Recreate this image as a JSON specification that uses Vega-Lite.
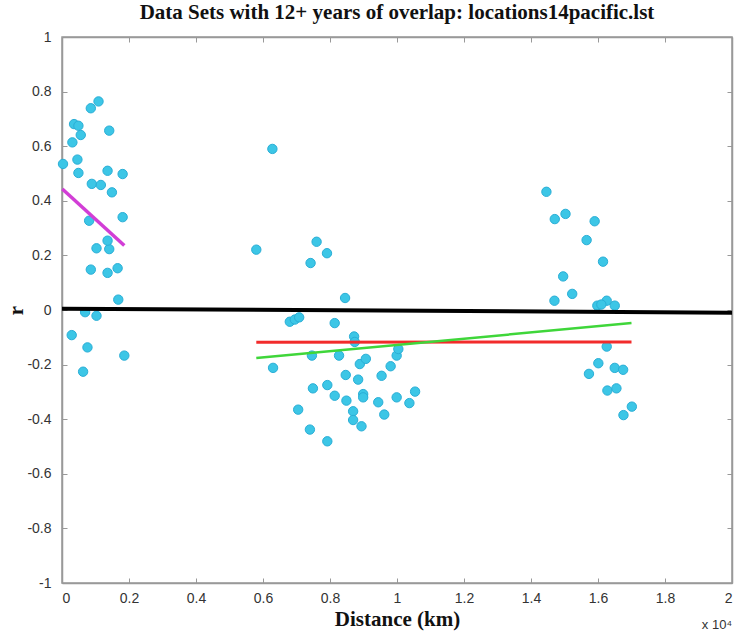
{
  "$schema": "https://vega.github.io/schema/vega-lite/v6.json",
  "autosize": {"type": "none"},
  "width": 670,
  "height": 546,
  "padding": {"left": 62, "top": 37, "right": 3, "bottom": 50},
  "background": "white",
  "title": {
    "text": "Data Sets with 12+ years of overlap: locations14pacific.lst",
    "font": "Liberation Serif",
    "fontSize": 21,
    "fontWeight": "bold",
    "color": "#111",
    "offset": 7
  },
  "config": {
    "view": {"stroke": "#999", "strokeWidth": 1.5},
    "axis": {
      "grid": false,
      "domainColor": "#999",
      "domainWidth": 1.5,
      "tickColor": "#999",
      "tickWidth": 1,
      "tickSize": -5,
      "labelFont": "Liberation Sans",
      "labelFontSize": 14,
      "labelColor": "#333",
      "titleFont": "Liberation Serif",
      "titleFontWeight": "bold",
      "titleFontSize": 21,
      "titleColor": "#111"
    }
  },
  "datasets": {
    "correlations": [
      {"distance": 30, "r": 0.535}, {"distance": 310, "r": 0.614}, {"distance": 360, "r": 0.681},
      {"distance": 490, "r": 0.675}, {"distance": 560, "r": 0.641}, {"distance": 460, "r": 0.551},
      {"distance": 490, "r": 0.502}, {"distance": 860, "r": 0.739}, {"distance": 1090, "r": 0.764},
      {"distance": 1410, "r": 0.657}, {"distance": 890, "r": 0.462}, {"distance": 1160, "r": 0.458},
      {"distance": 1360, "r": 0.51}, {"distance": 1810, "r": 0.498}, {"distance": 1490, "r": 0.431},
      {"distance": 1810, "r": 0.34}, {"distance": 810, "r": 0.327}, {"distance": 1030, "r": 0.226},
      {"distance": 1410, "r": 0.223}, {"distance": 1360, "r": 0.254}, {"distance": 860, "r": 0.148},
      {"distance": 1360, "r": 0.136}, {"distance": 1660, "r": 0.153}, {"distance": 1680, "r": 0.038},
      {"distance": 690, "r": -0.008}, {"distance": 1030, "r": -0.021}, {"distance": 290, "r": -0.092},
      {"distance": 760, "r": -0.137}, {"distance": 1860, "r": -0.167}, {"distance": 630, "r": -0.226},

      {"distance": 6280, "r": 0.59}, {"distance": 5800, "r": 0.221}, {"distance": 7600, "r": 0.25},
      {"distance": 7910, "r": 0.208}, {"distance": 7420, "r": 0.172}, {"distance": 8450, "r": 0.044},
      {"distance": 6800, "r": -0.043}, {"distance": 6950, "r": -0.035}, {"distance": 7080, "r": -0.027},
      {"distance": 8140, "r": -0.048}, {"distance": 8720, "r": -0.097}, {"distance": 6300, "r": -0.212},
      {"distance": 7460, "r": -0.167}, {"distance": 8270, "r": -0.167}, {"distance": 8740, "r": -0.117},
      {"distance": 9990, "r": -0.167}, {"distance": 10040, "r": -0.143}, {"distance": 8890, "r": -0.198},
      {"distance": 9070, "r": -0.179}, {"distance": 9810, "r": -0.206}, {"distance": 8470, "r": -0.238},
      {"distance": 8840, "r": -0.255}, {"distance": 9540, "r": -0.241}, {"distance": 7490, "r": -0.287},
      {"distance": 7920, "r": -0.275}, {"distance": 8140, "r": -0.314}, {"distance": 8990, "r": -0.308},
      {"distance": 8990, "r": -0.32}, {"distance": 8490, "r": -0.332}, {"distance": 9440, "r": -0.338},
      {"distance": 9990, "r": -0.32}, {"distance": 10540, "r": -0.299}, {"distance": 10370, "r": -0.341},
      {"distance": 7050, "r": -0.365}, {"distance": 8690, "r": -0.371}, {"distance": 9620, "r": -0.383},
      {"distance": 8690, "r": -0.403}, {"distance": 8940, "r": -0.426}, {"distance": 7400, "r": -0.438},
      {"distance": 7920, "r": -0.481},

      {"distance": 14460, "r": 0.433}, {"distance": 14710, "r": 0.333}, {"distance": 15030, "r": 0.352},
      {"distance": 15900, "r": 0.325}, {"distance": 15660, "r": 0.256}, {"distance": 16150, "r": 0.177},
      {"distance": 14960, "r": 0.123}, {"distance": 15230, "r": 0.059}, {"distance": 14700, "r": 0.034},
      {"distance": 15980, "r": 0.016}, {"distance": 16260, "r": 0.034}, {"distance": 16500, "r": 0.016},
      {"distance": 16100, "r": 0.02}, {"distance": 16260, "r": -0.134}, {"distance": 16010, "r": -0.195},
      {"distance": 15730, "r": -0.234}, {"distance": 16500, "r": -0.212}, {"distance": 16750, "r": -0.219},
      {"distance": 16280, "r": -0.295}, {"distance": 16550, "r": -0.287}, {"distance": 17010, "r": -0.354},
      {"distance": 16760, "r": -0.385}
    ],
    "fits": [
      {"fit": "all", "distance": 0, "r": 0.005},
      {"fit": "all", "distance": 20000, "r": -0.01},
      {"fit": "near", "distance": 10, "r": 0.443},
      {"fit": "near", "distance": 1860, "r": 0.236},
      {"fit": "far mean", "distance": 5800, "r": -0.118},
      {"fit": "far mean", "distance": 17000, "r": -0.117},
      {"fit": "far trend", "distance": 5800, "r": -0.176},
      {"fit": "far trend", "distance": 17000, "r": -0.048}
    ],
    "exponent": [{"distance": 20000, "r": -1, "label": "x 10⁴"}]
  },
  "resolve": {"axis": {"x": "independent", "y": "independent"}},
  "layer": [
    {
      "data": {"name": "correlations"},
      "mark": {"type": "point", "shape": "circle", "filled": true, "size": 88, "opacity": 1, "color": "#3cc6e6", "stroke": "#2aaed6", "strokeWidth": 1},
      "encoding": {
        "x": {
          "field": "distance", "type": "quantitative",
          "scale": {"domain": [0, 20000], "nice": false, "zero": false},
          "axis": {
            "title": "Distance (km)",
            "values": [0, 2000, 4000, 6000, 8000, 10000, 12000, 14000, 16000, 18000, 20000],
            "labelExpr": "'' + (datum.value / 10000)",
            "labelPadding": 13,
            "titlePadding": 3
          }
        },
        "y": {
          "field": "r", "type": "quantitative",
          "scale": {"domain": [-1, 1], "nice": false},
          "axis": {
            "title": "r",
            "values": [-1, -0.8, -0.6, -0.4, -0.2, 0, 0.2, 0.4, 0.6, 0.8, 1],
            "labelExpr": "'' + datum.value",
            "labelPadding": 16,
            "titlePadding": 0
          }
        }
      }
    },
    {
      "data": {"name": "fits"},
      "mark": {"type": "line", "strokeCap": "butt"},
      "encoding": {
        "x": {
          "field": "distance", "type": "quantitative",
          "axis": {"orient": "top", "title": null, "labels": false, "values": [0, 2000, 4000, 6000, 8000, 10000, 12000, 14000, 16000, 18000, 20000]}
        },
        "y": {
          "field": "r", "type": "quantitative",
          "axis": {"orient": "right", "title": null, "labels": false, "values": [-1, -0.8, -0.6, -0.4, -0.2, 0, 0.2, 0.4, 0.6, 0.8, 1]}
        },
        "detail": {"field": "fit"},
        "color": {
          "field": "fit", "type": "nominal", "legend": null,
          "scale": {"domain": ["all", "near", "far mean", "far trend"], "range": ["#000000", "#d23ed6", "#f22b2b", "#3fd63a"]}
        },
        "strokeWidth": {
          "field": "fit", "type": "nominal", "legend": null,
          "scale": {"domain": ["all", "near", "far mean", "far trend"], "range": [4, 2.5, 2, 2.5]}
        }
      }
    },
    {
      "data": {"name": "exponent"},
      "mark": {"type": "text", "align": "right", "baseline": "middle", "dy": 42, "font": "Liberation Sans", "fontSize": 13, "color": "#333"},
      "encoding": {
        "x": {"field": "distance", "type": "quantitative", "axis": null},
        "y": {"field": "r", "type": "quantitative", "axis": null},
        "text": {"field": "label"}
      }
    }
  ]
}
